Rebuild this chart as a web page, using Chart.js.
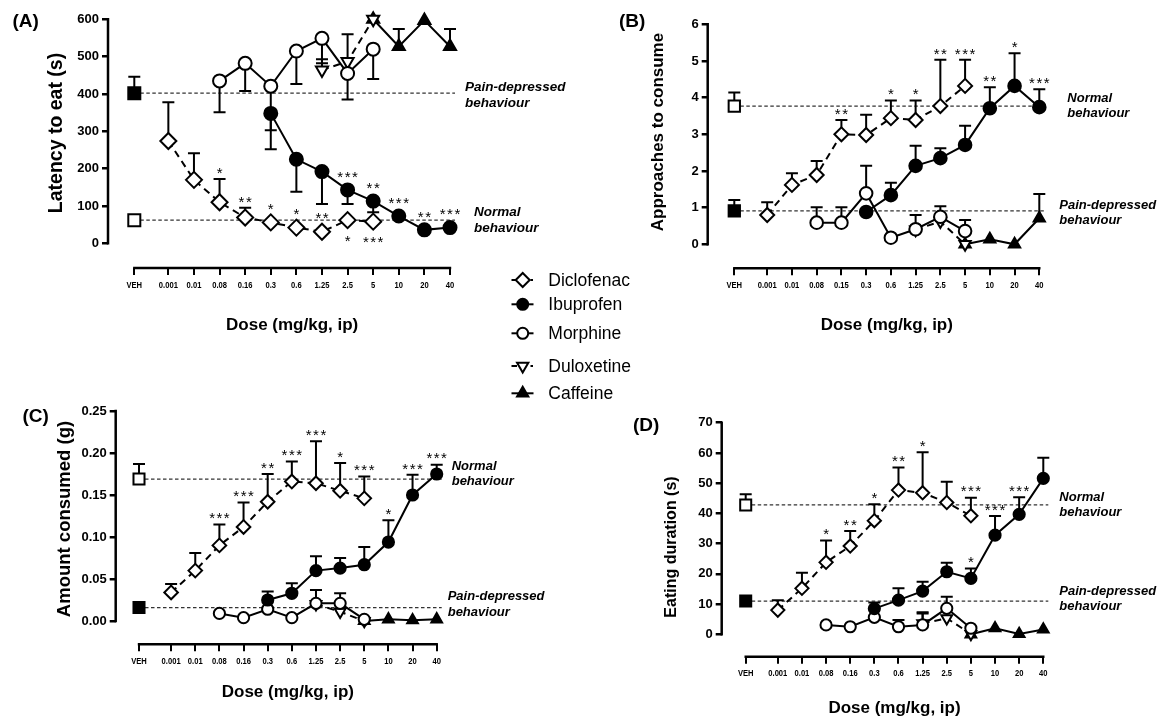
<!DOCTYPE html>
<html lang="en">
<head>
<meta charset="UTF-8">
<title>Dose-response of analgesics on pain-depressed feeding</title>
<script src="https://cdn.jsdelivr.net/npm/chart.js"></script>
<style>
  body { margin: 0; background: #fff; }
  #wrap { position: relative; width: 1168px; height: 718px; }
  #wrap canvas { position: absolute; left: 0; top: 0; }
</style>
</head>
<body>
<div id="wrap">
  <canvas id="chartA" width="1168" height="718"></canvas>
  <canvas id="chartB" width="1168" height="718"></canvas>
  <canvas id="chartC" width="1168" height="718"></canvas>
  <canvas id="chartD" width="1168" height="718"></canvas>
</div>
<script>
// ---- dose axis ----
const vehLabel = 'VEH';
const doseLabels = ['0.001', '0.01', '0.08', '0.16', '0.3', '0.6', '1.25', '2.5', '5', '10', '20', '40'];
const doseLabelsB = ['0.001', '0.01', '0.08', '0.15', '0.3', '0.6', '1.25', '2.5', '5', '10', '20', '40'];
const drugNames = ['Diclofenac', 'Ibuprofen', 'Morphine', 'Duloxetine', 'Caffeine'];
const _ = null;

// ---- (A) latency to eat (s) ----  vehicle: [pain, no pain]
const latTicks = [0, 100, 200, 300, 400, 500, 600];
const latVeh = [402, 62];
const latVehSem = [44, 0];
const latDiclo = [274, 170, 110, 69, 56, 42, 31, 62, 58, _, _, _];
const latDicloSem = [104, 71, 62, 26, 0, 0, 0, 0, 0, _, _, _];
const latDicloStars = [_, _, '*', '**', '*', '*', '**', _, _, _, _, _];
const latDicloStarsBelow = [_, _, _, _, _, _, _, '*', '***', _, _, _];
const latIbu = [_, _, _, _, 348, 225, 192, 143, 113, 73, 36, 42];
const latIbuSem = [_, _, _, _, 96, 87, 87, 38, 30, 0, 0, 0];
const latIbuStars = [_, _, _, _, _, _, _, '***', '**', '***', '**', '***'];
const latMorph = [_, _, 435, 482, 421, 515, 549, 455, 520, _, _, _];
const latMorphSem = [_, _, 84, 74, 118, 88, 67, 70, 80, _, _, _];
const latDulox = [_, _, _, _, _, _, 464, 487, 600, _, _, _];
const latDuloxSem = [_, _, _, _, _, _, 29, 73, 0, _, _, _];
const latCaff = [_, _, _, _, _, _, _, _, 600, 527, 597, 527];
const latCaffSem = [_, _, _, _, _, _, _, _, 0, 47, 0, 47];

// ---- (B) approaches to consume ----  vehicle: [pain, no pain]
const appTicks = [0, 1, 2, 3, 4, 5, 6];
const appVeh = [0.91, 3.77];
const appVehSem = [0.30, 0.37];
const appDiclo = [0.80, 1.62, 1.89, 3.00, 2.98, 3.44, 3.39, 3.77, 4.32, _, _, _];
const appDicloSem = [0.35, 0.32, 0.38, 0.39, 0.55, 0.48, 0.53, 1.26, 0.71, _, _, _];
const appDicloStars = [_, _, _, '**', _, '*', '*', '**', '***', _, _, _];
const appIbu = [_, _, _, _, 0.88, 1.34, 2.14, 2.35, 2.71, 3.71, 4.32, 3.74];
const appIbuSem = [_, _, _, _, 0, 0.34, 0.55, 0.27, 0.52, 0.57, 0.89, 0.49];
const appIbuStars = [_, _, _, _, _, _, _, _, _, '**', '*', '***'];
const appMorph = [_, _, 0.59, 0.59, 1.39, 0.18, 0.41, 0.75, 0.36, _, _, _];
const appMorphSem = [_, _, 0.42, 0.42, 0.75, 0, 0.39, 0.29, 0.30, _, _, _];
const appDulox = [_, _, _, _, _, _, 0.40, 0.62, 0.0, _, _, _];
const appDuloxSem = [_, _, _, _, _, _, 0, 0, 0, _, _, _];
const appCaff = [_, _, _, _, _, _, _, _, 0.0, 0.14, 0.0, 0.71];
const appCaffSem = [_, _, _, _, _, _, _, _, 0, 0, 0, 0.66];

// ---- (C) amount consumed (g) ----
const amtTicks = [0, 0.05, 0.10, 0.15, 0.20, 0.25];
const amtVeh = [0.016, 0.169];
const amtVehSem = [0, 0.018];
const amtDiclo = [0.034, 0.060, 0.090, 0.112, 0.142, 0.166, 0.164, 0.155, 0.146, _, _, _];
const amtDicloSem = [0.010, 0.021, 0.025, 0.029, 0.033, 0.024, 0.050, 0.033, 0.026, _, _, _];
const amtDicloStars = [_, _, '***', '***', '**', '***', '***', '*', '***', _, _, _];
const amtIbu = [_, _, _, _, 0.025, 0.033, 0.060, 0.063, 0.067, 0.094, 0.150, 0.175];
const amtIbuSem = [_, _, _, _, 0.010, 0.012, 0.017, 0.012, 0.021, 0.026, 0.024, 0.011];
const amtIbuStars = [_, _, _, _, _, _, _, _, _, '*', '***', '***'];
const amtMorph = [_, _, 0.009, 0.004, 0.014, 0.004, 0.021, 0.021, 0.002, _, _, _];
const amtMorphSem = [_, _, 0, 0, 0, 0, 0.016, 0.012, 0, _, _, _];
const amtDulox = [_, _, _, _, _, _, 0.020, 0.011, 0.000, _, _, _];
const amtDuloxSem = [_, _, _, _, _, _, 0, 0, 0, _, _, _];
const amtCaff = [_, _, _, _, _, _, _, _, 0.000, 0.002, 0.001, 0.002];
const amtCaffSem = [_, _, _, _, _, _, _, _, 0, 0, 0, 0];

// ---- (D) eating duration (s) ----
const durTicks = [0, 10, 20, 30, 40, 50, 60, 70];
const durVeh = [11.0, 42.8];
const durVehSem = [0, 3.5];
const durDiclo = [8.0, 15.2, 23.8, 29.2, 37.6, 47.7, 46.8, 43.6, 39.2, _, _, _];
const durDicloSem = [3.3, 5.2, 7.2, 5.0, 5.4, 7.5, 13.4, 6.9, 6.0, _, _, _];
const durDicloStars = [_, _, '*', '**', '*', '**', '*', _, '***', _, _, _];
const durIbu = [_, _, _, _, 8.5, 11.3, 14.3, 20.7, 18.5, 32.8, 39.7, 51.6];
const durIbuSem = [_, _, _, _, 2.0, 3.9, 3.1, 3.0, 3.3, 6.3, 5.6, 6.8];
const durIbuStars = [_, _, _, _, _, _, _, _, '*', '***', '***', _];
const durMorph = [_, _, 3.1, 2.5, 5.6, 2.5, 3.1, 8.6, 2.0, _, _, _];
const durMorphSem = [_, _, 0, 0, 0, 2.2, 3.8, 3.8, 0, _, _, _];
const durDulox = [_, _, _, _, _, _, 3.6, 5.3, 0.1, _, _, _];
const durDuloxSem = [_, _, _, _, _, _, 3.7, 0, 0, _, _, _];
const durCaff = [_, _, _, _, _, _, _, _, 0.0, 2.0, 0.1, 1.6];
const durCaffSem = [_, _, _, _, _, _, _, _, 0, 0, 0, 0];

// ---- drawing ----
const FONT = "'Liberation Sans', Arial, Helvetica, sans-serif";
const VEH_X = -1.33;   // vehicle sits a little apart from the dose series
const LAST_X = doseLabels.length - 1;

Chart.defaults.font.family = FONT;
Chart.defaults.color = '#000';

const STYLE = {
  diclofenac: { pointStyle: 'rectRot', fill: '#fff', dash: [7, 5], marker: 'd' },
  ibuprofen:  { pointStyle: 'circle', fill: '#000', dash: [], marker: 'c' },
  morphine:   { pointStyle: 'circle', fill: '#fff', dash: [], marker: 'c' },
  duloxetine: { pointStyle: 'triangle', rotation: 180, fill: '#fff', dash: [7, 5], marker: 't' },
  caffeine:   { pointStyle: 'triangle', fill: '#000', dash: [], marker: 't' }
};

function pointsOf(values, sem, stars, starsBelow) {
  const out = [];
  values.forEach((v, i) => {
    if (v === null) return;
    out.push({ x: i, y: v, sem: sem ? sem[i] : 0,
               star: stars ? stars[i] : null, below: starsBelow ? starsBelow[i] : null });
  });
  return out;
}

function drugSet(drug, mk, values, sem, stars, starsBelow, errDown) {
  const st = STYLE[drug];
  return {
    label: drug,
    data: pointsOf(values, sem, stars, starsBelow),
    borderColor: '#000', borderWidth: 2, borderDash: st.dash,
    pointStyle: st.pointStyle, pointRotation: st.rotation || 0, pointRadius: mk[st.marker],
    pointBackgroundColor: st.fill, pointBorderColor: '#000', pointBorderWidth: 2,
    tension: 0, clip: false, errDown: !!errDown
  };
}

function vehicleSet(mk, values, sem) {
  return {
    label: vehLabel, showLine: false, clip: false,
    data: values.map((v, i) => ({ x: VEH_X, y: v, sem: sem[i] })),
    pointStyle: 'rect', pointRadius: mk.s,
    pointBackgroundColor: ['#000', '#fff'], pointBorderColor: '#000', pointBorderWidth: 2
  };
}

function drawStars(ctx, text, x, cy, size) {
  ctx.font = `${size}px ${FONT}`;
  ctx.letterSpacing = '1.5px';
  ctx.textAlign = 'center';
  ctx.textBaseline = 'alphabetic';
  ctx.fillText(text, x + 0.75, cy + 0.58 * size);
  ctx.letterSpacing = '0px';
}

function drawLegend(ctx) {
  const rows = [280, 304.3, 333.3, 366, 393.3];
  const keys = ['diclofenac', 'ibuprofen', 'morphine', 'duloxetine', 'caffeine'];
  const sizes = { d: 7, c: 5.5, t: 6.5 };
  keys.forEach((k, i) => {
    const st = STYLE[k], y = rows[i];
    ctx.strokeStyle = '#000'; ctx.lineWidth = 2; ctx.setLineDash([]);
    ctx.beginPath();
    if (st.dash.length) {
      ctx.moveTo(511.5, y); ctx.lineTo(517, y);
      ctx.moveTo(530.5, y); ctx.lineTo(533, y);
    } else {
      ctx.moveTo(511.5, y); ctx.lineTo(533.5, y);
    }
    ctx.stroke();
    ctx.fillStyle = st.fill;
    Chart.helpers.drawPoint(ctx, { pointStyle: st.pointStyle, rotation: st.rotation || 0,
      radius: sizes[st.marker], borderWidth: 2 }, 522.7, y);
    ctx.fillStyle = '#000';
    ctx.font = `17.5px ${FONT}`;
    ctx.textAlign = 'left'; ctx.textBaseline = 'middle';
    ctx.fillText(drugNames[i], 548.3, y + 1);
  });
}

function decor(p) {
  const g = p.geo;
  return {
    id: 'decor',
    beforeDatasetsDraw(chart) {
      const { ctx, chartArea, scales: { x, y } } = chart;
      const vx = x.getPixelForValue(VEH_X), lx = x.getPixelForValue(LAST_X);
      ctx.save();
      // detached Prism-style axes
      ctx.strokeStyle = '#000'; ctx.lineWidth = 2.5; ctx.setLineDash([]);
      ctx.beginPath();
      ctx.moveTo(chartArea.left, y.getPixelForValue(p.yMax) - 1.2);
      ctx.lineTo(chartArea.left, y.getPixelForValue(0) + 1.2);
      ctx.moveTo(vx - 1.2, chartArea.bottom);
      ctx.lineTo(lx + 1.2, chartArea.bottom);
      ctx.stroke();
      // dotted reference lines through the two vehicle groups
      ctx.lineWidth = 1.2; ctx.strokeStyle = '#333'; ctx.setLineDash([3.5, 2.5]);
      p.veh.forEach(v => {
        const py = y.getPixelForValue(v);
        ctx.beginPath(); ctx.moveTo(vx, py); ctx.lineTo(lx + 5, py); ctx.stroke();
      });
      // one-sided SEM bars
      ctx.setLineDash([]); ctx.lineWidth = 2; ctx.strokeStyle = '#000';
      chart.data.datasets.forEach((ds, di) => {
        const meta = chart.getDatasetMeta(di);
        ds.data.forEach((d, k) => {
          if (!d.sem) return;
          const el = meta.data[k];
          const cap = y.getPixelForValue(ds.errDown ? d.y - d.sem : d.y + d.sem);
          ctx.beginPath();
          ctx.moveTo(el.x, el.y); ctx.lineTo(el.x, cap);
          ctx.moveTo(el.x - 6, cap); ctx.lineTo(el.x + 6, cap);
          ctx.stroke();
        });
      });
      ctx.restore();
    },
    afterDraw(chart) {
      const { ctx, chartArea, scales: { x, y } } = chart;
      const vx = x.getPixelForValue(VEH_X), lx = x.getPixelForValue(LAST_X);
      ctx.save();
      ctx.fillStyle = '#000';
      // dose labels in a condensed bold face (squeezed horizontally)
      ctx.font = `bold 9.5px ${FONT}`;
      ctx.textAlign = 'center'; ctx.textBaseline = 'middle';
      x.ticks.forEach(t => {
        ctx.save();
        ctx.translate(x.getPixelForValue(t.value), chartArea.bottom + 17);
        ctx.scale(0.8, 1);
        ctx.fillText(t.label, 0, 0);
        ctx.restore();
      });
      // significance stars
      chart.data.datasets.forEach((ds, di) => {
        const meta = chart.getDatasetMeta(di);
        ds.data.forEach((d, k) => {
          const el = meta.data[k];
          if (d.star) {
            const up = !ds.errDown && d.sem > 0;
            const cy = up ? y.getPixelForValue(d.y + d.sem) - 10 : el.y - 17;
            drawStars(ctx, d.star, el.x, cy, 15);
          }
          if (d.below) drawStars(ctx, d.below, el.x, el.y + 17, 15);
        });
      });
      // behaviour notes next to reference lines
      ctx.font = `italic bold ${g.note[2]}px ${FONT}`;
      ctx.textAlign = 'left'; ctx.textBaseline = 'middle';
      const notes = [['Pain-depressed', 'behaviour'], ['Normal', 'behaviour']];
      p.veh.forEach((v, i) => {
        const py = y.getPixelForValue(v) + g.note[3 + i];
        ctx.fillText(notes[i][0], lx + g.note[i], py - 7.8);
        ctx.fillText(notes[i][1], lx + g.note[i], py + 7.8);
      });
      // axis titles
      ctx.font = `bold 17px ${FONT}`;
      ctx.textAlign = 'center';
      ctx.fillText('Dose (mg/kg, ip)', (vx + lx) / 2, g.xTitleY);
      ctx.save();
      ctx.translate(g.yTitle[0], g.yTitle[1]);
      ctx.rotate(-Math.PI / 2);
      ctx.font = `bold ${g.yTitle[2]}px ${FONT}`;
      ctx.fillText(p.yTitle, 0, 0);
      ctx.restore();
      // panel letter
      ctx.font = `bold ${g.letter[2]}px ${FONT}`;
      ctx.textAlign = 'left';
      ctx.fillText(p.letter, g.letter[0], g.letter[1]);
      if (p.legend) drawLegend(ctx);
      ctx.restore();
    }
  };
}

function buildPanel(p) {
  const g = p.geo;
  const Y_W = 50, X_H = 30;
  const step = (g.lastX - g.vehX) / (LAST_X - VEH_X);
  const perUnit = (g.zeroY - g.topY) / p.yMax;
  const rightPx = g.lastX + 10;
  new Chart(document.getElementById(p.id), {
    type: 'line',
    data: { datasets: p.datasets },
    options: {
      responsive: false,
      animation: false,
      events: [],
      layout: { padding: { left: g.axisX - Y_W, top: g.topY, right: 1168 - rightPx, bottom: 718 - X_H - g.lineY } },
      plugins: { legend: { display: false }, tooltip: { enabled: false } },
      scales: {
        x: {
          type: 'linear',
          min: VEH_X - (g.vehX - g.axisX) / step,
          max: LAST_X + 10 / step,
          afterFit: s => { s.height = X_H; },
          afterBuildTicks: s => { s.ticks = [VEH_X, ...p.xLabels.map((_, i) => i)].map(v => ({ value: v })); },
          // labels are painted condensed by the decor plugin
          ticks: { autoSkip: false, maxRotation: 0, minRotation: 0, padding: 4, color: 'rgba(0,0,0,0)',
                   font: { size: 9.5, weight: 'bold' },
                   callback: (v, i) => i === 0 ? vehLabel : p.xLabels[i - 1] },
          grid: { drawOnChartArea: false, drawTicks: true, tickLength: 7, lineWidth: 2, color: '#000' },
          border: { display: false }
        },
        y: {
          type: 'linear',
          min: -(g.lineY - g.zeroY) / perUnit,
          max: p.yMax,
          afterFit: s => { s.width = Y_W; },
          afterBuildTicks: s => { s.ticks = p.yTicks.map(v => ({ value: v })); },
          ticks: { padding: 3, color: '#000', font: { size: 13, weight: 'bold' }, callback: p.fmt },
          grid: { drawOnChartArea: false, drawTicks: true, tickLength: 6, lineWidth: 2.5, color: '#000' },
          border: { display: false }
        }
      }
    },
    plugins: [decor(p)]
  });
}

// marker radii per panel: d diamond, c circle, t triangle, s square
const mkA = { d: 8, c: 6.5, t: 7, s: 8.5 };
const mkB = { d: 7, c: 6.3, t: 6.5, s: 8 };
const mkC = { d: 6.8, c: 5.6, t: 6.2, s: 7.8 };
const mkD = { d: 6.6, c: 5.6, t: 6.2, s: 7.8 };

buildPanel({
  id: 'chartA', letter: '(A)', yTitle: 'Latency to eat (s)', legend: true,
  xLabels: doseLabels, yTicks: latTicks, yMax: 600, fmt: v => String(v), veh: latVeh,
  geo: { axisX: 108, vehX: 134.3, lastX: 450, topY: 19.3, zeroY: 243.3, lineY: 268,
         yTitle: [57, 133, 19.5], xTitleY: 325, letter: [12.5, 22, 19], note: [15, 24, 13.5, 2, 0] },
  datasets: [
    drugSet('diclofenac', mkA, latDiclo, latDicloSem, latDicloStars, latDicloStarsBelow),
    drugSet('ibuprofen', mkA, latIbu, latIbuSem, latIbuStars, null, true),
    drugSet('morphine', mkA, latMorph, latMorphSem, null, null, true),
    drugSet('duloxetine', mkA, latDulox, latDuloxSem),
    drugSet('caffeine', mkA, latCaff, latCaffSem),
    vehicleSet(mkA, latVeh, latVehSem)
  ]
});

buildPanel({
  id: 'chartB', letter: '(B)', yTitle: 'Approaches to consume',
  xLabels: doseLabelsB, yTicks: appTicks, yMax: 6, fmt: v => String(v), veh: appVeh,
  geo: { axisX: 707.7, vehX: 734.3, lastX: 1039.3, topY: 24.3, zeroY: 244.3, lineY: 268.3,
         yTitle: [658, 132, 17], xTitleY: 325, letter: [619, 22, 19], note: [20, 28, 13, 2, 0] },
  datasets: [
    drugSet('diclofenac', mkB, appDiclo, appDicloSem, appDicloStars),
    drugSet('ibuprofen', mkB, appIbu, appIbuSem, appIbuStars),
    drugSet('morphine', mkB, appMorph, appMorphSem),
    drugSet('duloxetine', mkB, appDulox, appDuloxSem),
    drugSet('caffeine', mkB, appCaff, appCaffSem),
    vehicleSet(mkB, appVeh, appVehSem)
  ]
});

buildPanel({
  id: 'chartC', letter: '(C)', yTitle: 'Amount consumed (g)',
  xLabels: doseLabels, yTicks: amtTicks, yMax: 0.25, fmt: v => v.toFixed(2), veh: amtVeh,
  geo: { axisX: 115.7, vehX: 139, lastX: 436.7, topY: 411, zeroY: 621, lineY: 644.3,
         yTitle: [65, 519, 18.5], xTitleY: 692, letter: [22.5, 417, 19], note: [11, 15, 13, -3, -5] },
  datasets: [
    drugSet('diclofenac', mkC, amtDiclo, amtDicloSem, amtDicloStars),
    drugSet('ibuprofen', mkC, amtIbu, amtIbuSem, amtIbuStars),
    drugSet('morphine', mkC, amtMorph, amtMorphSem),
    drugSet('duloxetine', mkC, amtDulox, amtDuloxSem),
    drugSet('caffeine', mkC, amtCaff, amtCaffSem),
    vehicleSet(mkC, amtVeh, amtVehSem)
  ]
});

buildPanel({
  id: 'chartD', letter: '(D)', yTitle: 'Eating duration (s)',
  xLabels: doseLabels, yTicks: durTicks, yMax: 70, fmt: v => String(v), veh: durVeh,
  geo: { axisX: 721.7, vehX: 745.7, lastX: 1043.3, topY: 422.7, zeroY: 634.3, lineY: 656.7,
         yTitle: [672, 547, 16], xTitleY: 708, letter: [633, 426, 19], note: [16, 16, 13, -2, 0] },
  datasets: [
    drugSet('diclofenac', mkD, durDiclo, durDicloSem, durDicloStars),
    drugSet('ibuprofen', mkD, durIbu, durIbuSem, durIbuStars),
    drugSet('morphine', mkD, durMorph, durMorphSem),
    drugSet('duloxetine', mkD, durDulox, durDuloxSem),
    drugSet('caffeine', mkD, durCaff, durCaffSem),
    vehicleSet(mkD, durVeh, durVehSem)
  ]
});
</script>
</body>
</html>
